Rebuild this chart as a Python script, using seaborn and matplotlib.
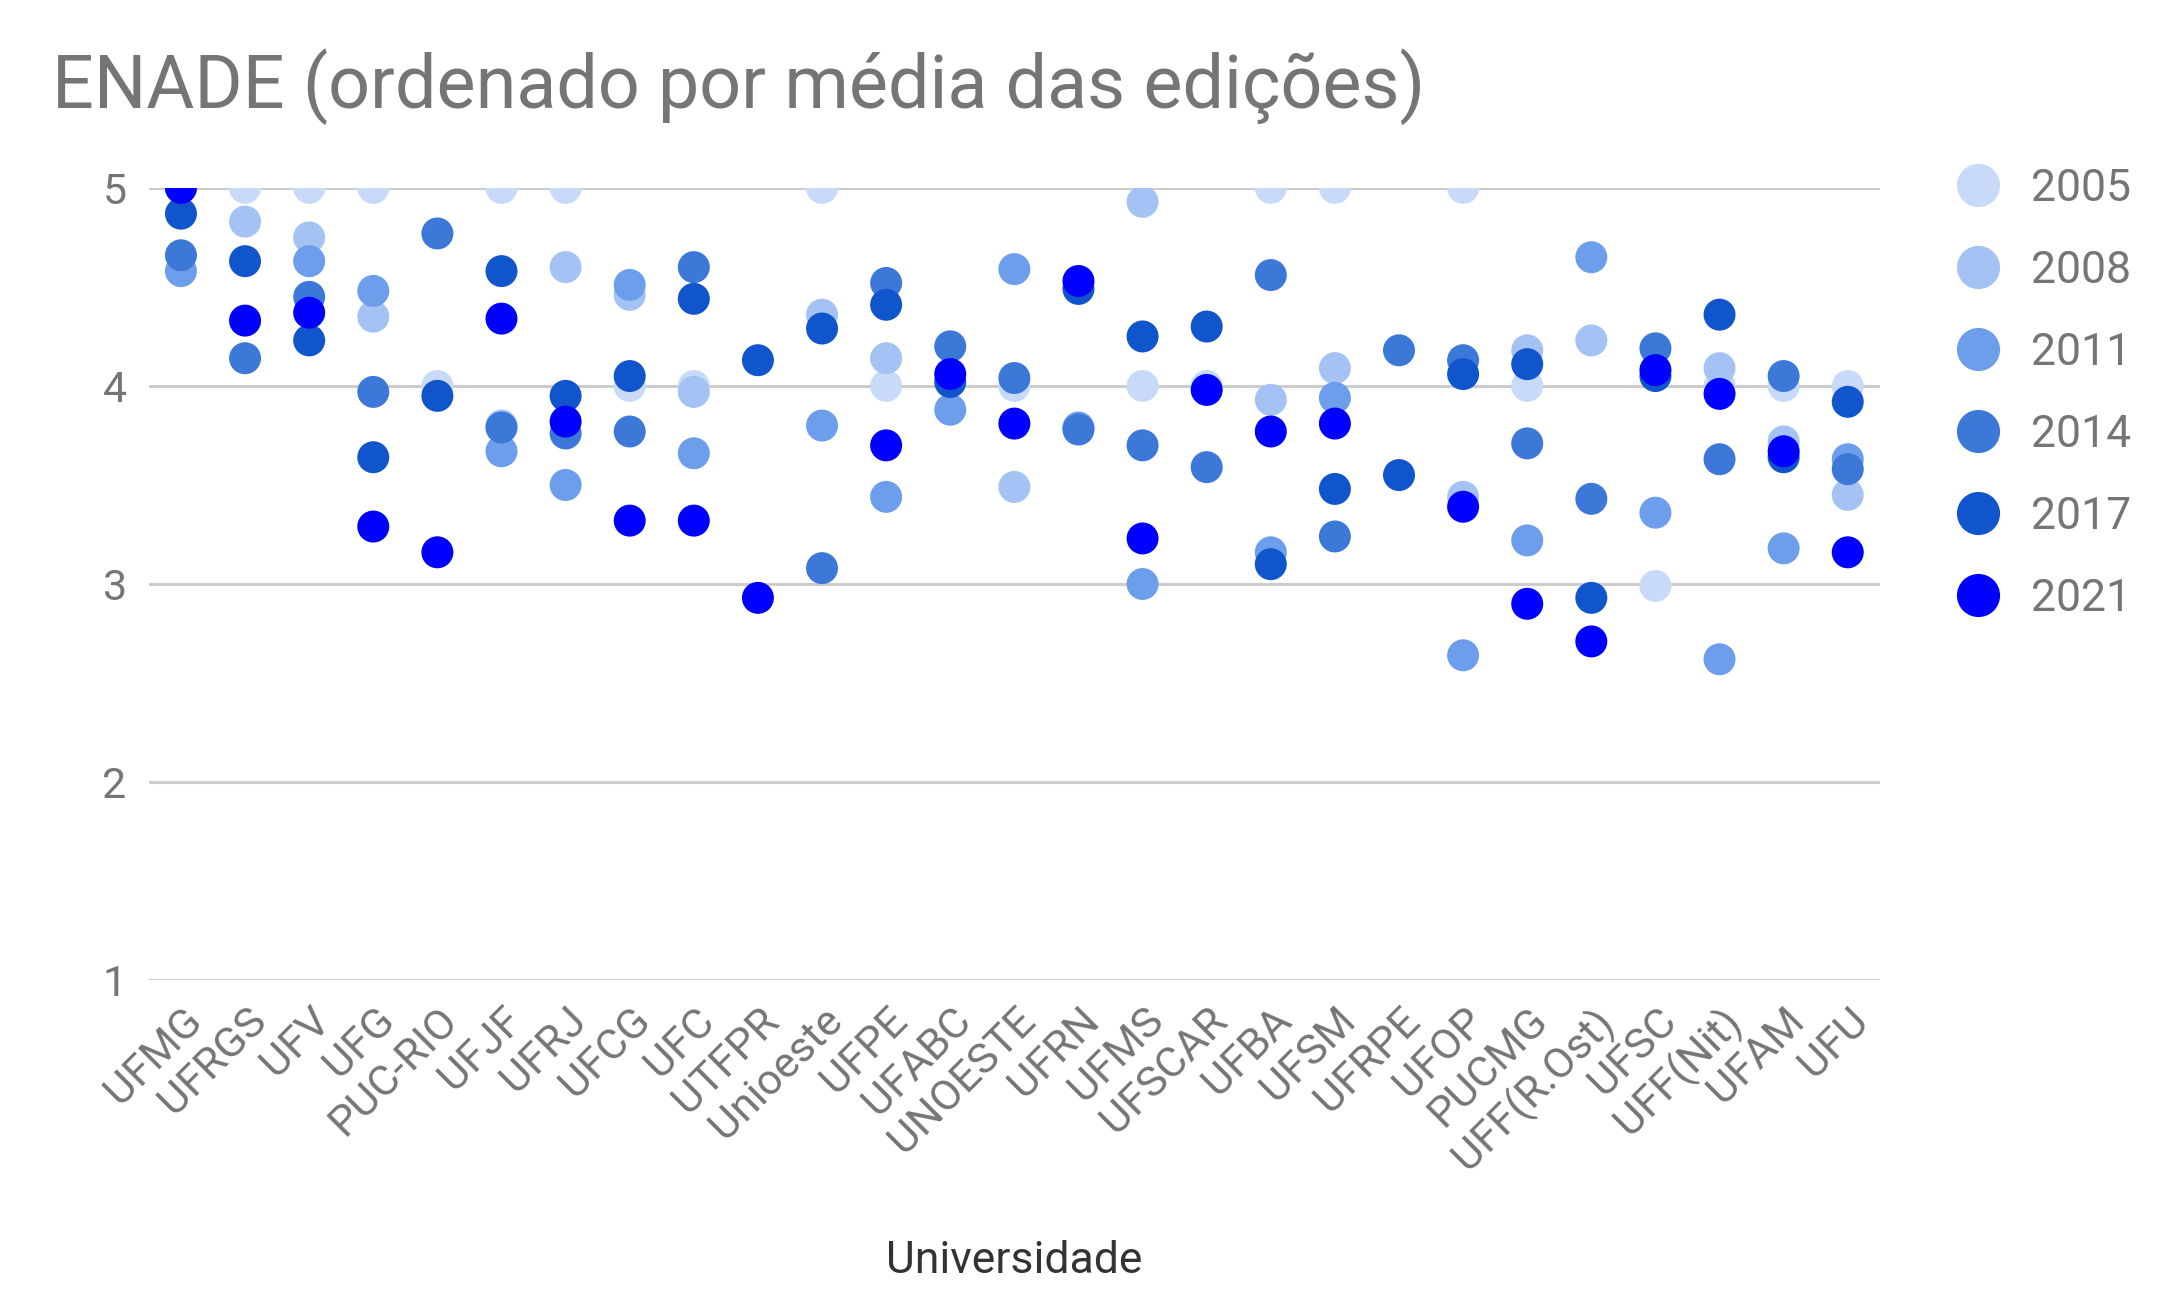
import numpy as np
import pandas as pd
import matplotlib
matplotlib.use("Agg")
import matplotlib.pyplot as plt
import seaborn as sns

# data (nan = not visible / hidden)
nan = np.nan
universidades = ["UFMG", "UFRGS", "UFV", "UFG", "PUC-RIO", "UFJF", "UFRJ", "UFCG", "UFC",
                 "UTFPR", "Unioeste", "UFPE", "UFABC", "UNOESTE", "UFRN", "UFMS", "UFSCAR",
                 "UFBA", "UFSM", "UFRPE", "UFOP", "PUCMG", "UFF(R.Ost)", "UFSC", "UFF(Nit)",
                 "UFAM", "UFU"]
anos = ["2005", "2008", "2011", "2014", "2017", "2021"]

v2005 = [5.0, 5.0, 5.0, 5.0, 4.0, 5.0, 5.0, 4.0, 4.0, nan, 5.0, 4.0, nan, 4.0, nan, 4.0, 4.0,
         5.0, 5.0, nan, 5.0, 4.0, nan, 2.99, 4.0, 4.0, 4.0]
v2008 = [5.0, 4.83, 4.75, 4.35, nan, 3.80, 4.60, 4.46, 3.97, nan, 4.36, 4.14, nan, 3.49, nan, 4.93, nan,
         3.93, 4.09, nan, 3.44, 4.18, 4.23, nan, 4.09, 3.72, 3.45]
v2011 = [4.58, nan, 4.63, 4.48, nan, 3.67, 3.50, 4.51, 3.66, nan, 3.80, 3.44, 3.88, 4.59, 3.79, 3.00, nan,
         3.16, 3.94, nan, 2.64, 3.22, 4.65, 3.36, 2.62, 3.18, 3.63]
v2014 = [4.66, 4.14, 4.45, 3.97, 4.77, 3.79, 3.76, 3.77, 4.60, nan, 3.08, 4.52, 4.20, 4.04, 3.78, 3.70, 3.59,
         4.56, 3.24, 4.18, 4.13, 3.71, 3.43, 4.19, 3.63, 4.05, 3.58]
v2017 = [4.87, 4.63, 4.23, 3.64, 3.95, 4.58, 3.95, 4.05, 4.44, 4.13, 4.29, 4.41, 4.02, nan, 4.49, 4.25, 4.30,
         3.10, 3.48, 3.55, 4.06, 4.11, 2.93, 4.05, 4.36, 3.64, 3.92]
v2021 = [5.0, 4.33, 4.37, 3.29, 3.16, 4.34, 3.82, 3.32, 3.32, 2.93, nan, 3.70, 4.06, 3.81, 4.53, 3.23, 3.98,
         3.77, 3.81, nan, 3.39, 2.90, 2.71, 4.08, 3.96, 3.67, 3.16]

cores = ["#c9daf8", "#a4c2f4", "#6d9eeb", "#3c78d8", "#1155cc", "#0000ff"]

# long format, later years drawn on top
frames = []
for ano, vals in zip(anos, [v2005, v2008, v2011, v2014, v2017, v2021]):
    frames.append(pd.DataFrame({"Universidade": universidades, "Nota": vals, "Ano": ano}))
df = pd.concat(frames, ignore_index=True).dropna()

sns.set_theme(style="white")
plt.rcParams["font.family"] = ["Roboto", "DejaVu Sans"]
grey = "#757575"

fig = plt.figure(figsize=(21.8, 13.05), dpi=100)
ax = fig.add_axes([0.0683, 0.249, 0.794, 0.607])

# register category order on the x axis before plotting
ax.xaxis.update_units(np.array(universidades))
sns.scatterplot(data=df, x="Universidade", y="Nota", hue="Ano",
                palette=dict(zip(anos, cores)), hue_order=anos,
                s=530, linewidth=0, alpha=1, ax=ax, zorder=3)

ax.set_xlim(-0.5, len(universidades) - 0.5)
ax.set_ylim(1, 5)
ax.set_yticks([1, 2, 3, 4, 5])
ax.set_xticks(range(len(universidades)))
ax.set_xticklabels(universidades)
ax.yaxis.grid(True, color="#cccccc", linewidth=2.2)
ax.xaxis.grid(False)
ax.set_axisbelow(True)
for sp in ax.spines.values():
    sp.set_visible(False)

ax.tick_params(axis="y", length=0, pad=16, labelsize=31, labelcolor=grey)
ax.tick_params(axis="x", length=0, pad=14, labelsize=31, labelcolor=grey)
plt.setp(ax.get_xticklabels(), rotation=45, ha="right", rotation_mode="anchor")

ax.set_ylabel("")
ax.set_xlabel("Universidade", fontsize=32, color="#333333", labelpad=44)

fig.text(0.024, 0.917, "ENADE (ordenado por média das edições)", fontsize=53,
         color=grey, va="baseline", ha="left")

leg = ax.legend(loc="upper left", bbox_to_anchor=(0.887, 0.885), bbox_transform=fig.transFigure,
                frameon=False, fontsize=32, markerscale=1.35, labelspacing=0.9,
                handlelength=1.2, handletextpad=0.6, borderaxespad=0, title=None)
for t in leg.get_texts():
    t.set_color(grey)

fig.savefig("out.png", dpi=100)
